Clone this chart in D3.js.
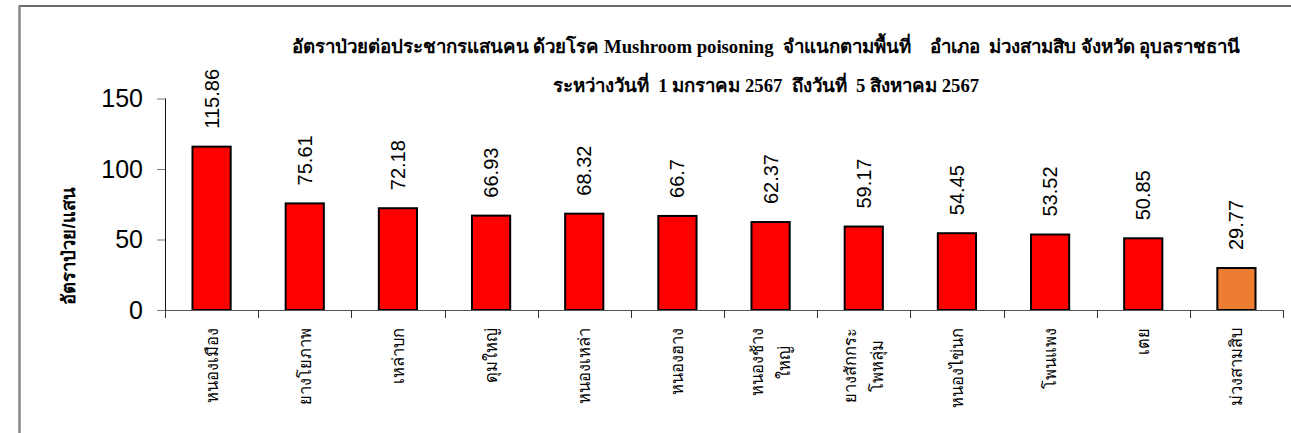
<!DOCTYPE html>
<html>
<head>
<meta charset="utf-8">
<script src="https://cdn.jsdelivr.net/npm/d3@7"></script>
<style>
  html, body { margin: 0; padding: 0; background: #fff; }
  svg { display: block; }
</style>
</head>
<body>
<svg id="chart" width="1291" height="433"></svg>
<script>
// ---- data ----
const categories = [
  ["หนองเมือง"],
  ["ยางโยภาพ"],
  ["เหล่าบก"],
  ["ดุมใหญ่"],
  ["หนองเหล่า"],
  ["หนองฮาง"],
  ["หนองช้าง", "ใหญ่"],
  ["ยางสักกระ", "โพหลุ่ม"],
  ["หนองไข่นก"],
  ["โพนแพง"],
  ["เตย"],
  ["ม่วงสามสิบ"]
];
const values = [115.86, 75.61, 72.18, 66.93, 68.32, 66.7, 62.37, 59.17, 54.45, 53.52, 50.85, 29.77];
const barColors = ["#FF0000", "#FF0000", "#FF0000", "#FF0000", "#FF0000", "#FF0000",
                   "#FF0000", "#FF0000", "#FF0000", "#FF0000", "#FF0000", "#ED7D31"];
const yTicks = [0, 50, 100, 150];
const titleLines = [
  "อัตราป่วยต่อประชากรแสนคน ด้วยโรค Mushroom poisoning  จำแนกตามพื้นที่    อำเภอ  ม่วงสามสิบ จังหวัด อุบลราชธานี",
  "ระหว่างวันที่  1 มกราคม 2567  ถึงวันที่  5 สิงหาคม 2567"
];
const yTitle = "อัตราป่วย/แสน";

// ---- layout ----
const svg = d3.select("#chart");
const plot = { left: 165, right: 1283, top: 98.5, bottom: 310 };

// chart area border (cropped on right/bottom)
svg.append("line").attr("x1", 19).attr("x2", 1291).attr("y1", 6).attr("y2", 6)
  .attr("stroke", "#3a3a3a").attr("stroke-width", 1.5);
svg.append("line").attr("x1", 19.5).attr("x2", 19.5).attr("y1", 5.5).attr("y2", 433)
  .attr("stroke", "#888").attr("stroke-width", 2.5);

const x = d3.scaleBand().domain(d3.range(categories.length))
  .range([plot.left, plot.right]).paddingInner(0).paddingOuter(0);
const y = d3.scaleLinear().domain([0, 150]).range([plot.bottom, plot.top]);
const barW = x.bandwidth() * 0.41;

// title
const title = svg.append("g").attr("font-family", "'Liberation Serif', 'Times New Roman', serif")
  .attr("font-weight", "bold").attr("font-size", 18.7).attr("fill", "#000").attr("text-anchor", "middle");
title.selectAll("text").data(titleLines).join("text")
  .attr("x", 766).attr("y", (d, i) => 53 + i * 39)
  .attr("xml:space", "preserve").style("white-space", "pre")
  .text(d => d);

// y axis title
svg.append("text")
  .attr("transform", "translate(68,246) rotate(-90)")
  .attr("text-anchor", "middle").attr("dominant-baseline", "central")
  .attr("font-family", "'Liberation Sans', Arial, sans-serif")
  .attr("font-weight", "bold").attr("font-size", 18.5)
  .text(yTitle);

// bars
svg.append("g").selectAll("rect").data(values).join("rect")
  .attr("x", (d, i) => x(i) + x.bandwidth() / 2 - barW / 2)
  .attr("width", barW)
  .attr("y", d => y(d))
  .attr("height", d => y(0) - y(d))
  .attr("fill", (d, i) => barColors[i])
  .attr("stroke", "#000").attr("stroke-width", 2);

// y axis
const yAxis = d3.axisLeft(y).tickValues(yTicks).tickSize(8).tickPadding(14).tickFormat(d3.format("d"));
const gy = svg.append("g").attr("transform", `translate(${plot.left},0)`).call(yAxis);
gy.select(".domain").remove();
gy.selectAll(".tick line").attr("stroke", "#777");
gy.selectAll(".tick text").attr("font-family", "'Liberation Sans', Arial, sans-serif")
  .attr("font-size", 25).attr("fill", "#000");
svg.append("line").attr("x1", plot.left + 0.5).attr("x2", plot.left + 0.5)
  .attr("y1", plot.top).attr("y2", plot.bottom + 8).attr("stroke", "#111").attr("stroke-width", 1);

// x axis line + category ticks
svg.append("line").attr("x1", plot.left).attr("x2", plot.right + 1)
  .attr("y1", plot.bottom + 0.5).attr("y2", plot.bottom + 0.5).attr("stroke", "#555").attr("stroke-width", 1);
const boundaries = d3.range(categories.length + 1).map(i => i < categories.length ? x(i) : plot.right);
svg.append("g").selectAll("line").data(boundaries).join("line")
  .attr("x1", d => Math.round(d) + 0.5).attr("x2", d => Math.round(d) + 0.5)
  .attr("y1", plot.bottom).attr("y2", plot.bottom + 8)
  .attr("stroke", "#333").attr("stroke-width", 1);

// value labels
svg.append("g").selectAll("text").data(values).join("text")
  .attr("transform", (d, i) => `translate(${x(i) + x.bandwidth() / 2},${y(d) - 18}) rotate(-90)`)
  .attr("text-anchor", "start").attr("dominant-baseline", "central")
  .attr("font-family", "'Liberation Sans', Arial, sans-serif").attr("font-size", 20)
  .attr("fill", "#000")
  .text(d => String(d));

// category labels (rotated, block anchored near axis, lines centred)
const catG = svg.append("g").attr("font-family", "'Liberation Sans', Arial, sans-serif")
  .attr("font-size", 16.5).attr("fill", "#000");
categories.forEach((lines, i) => {
  const cx = x(i) + x.bandwidth() / 2;
  const lineGap = 27;
  const texts = lines.map((t, j) => {
    const off = (j - (lines.length - 1) / 2) * lineGap;
    return catG.append("text").attr("text-anchor", "middle").attr("dominant-baseline", "central")
      .attr("data-x", cx + off).text(t);
  });
  const maxLen = d3.max(texts, t => t.node().getComputedTextLength());
  const cy = 328 + maxLen / 2;
  texts.forEach(t => t.attr("transform", `translate(${t.attr("data-x")},${cy}) rotate(-90)`));
});
</script>
</body>
</html>
